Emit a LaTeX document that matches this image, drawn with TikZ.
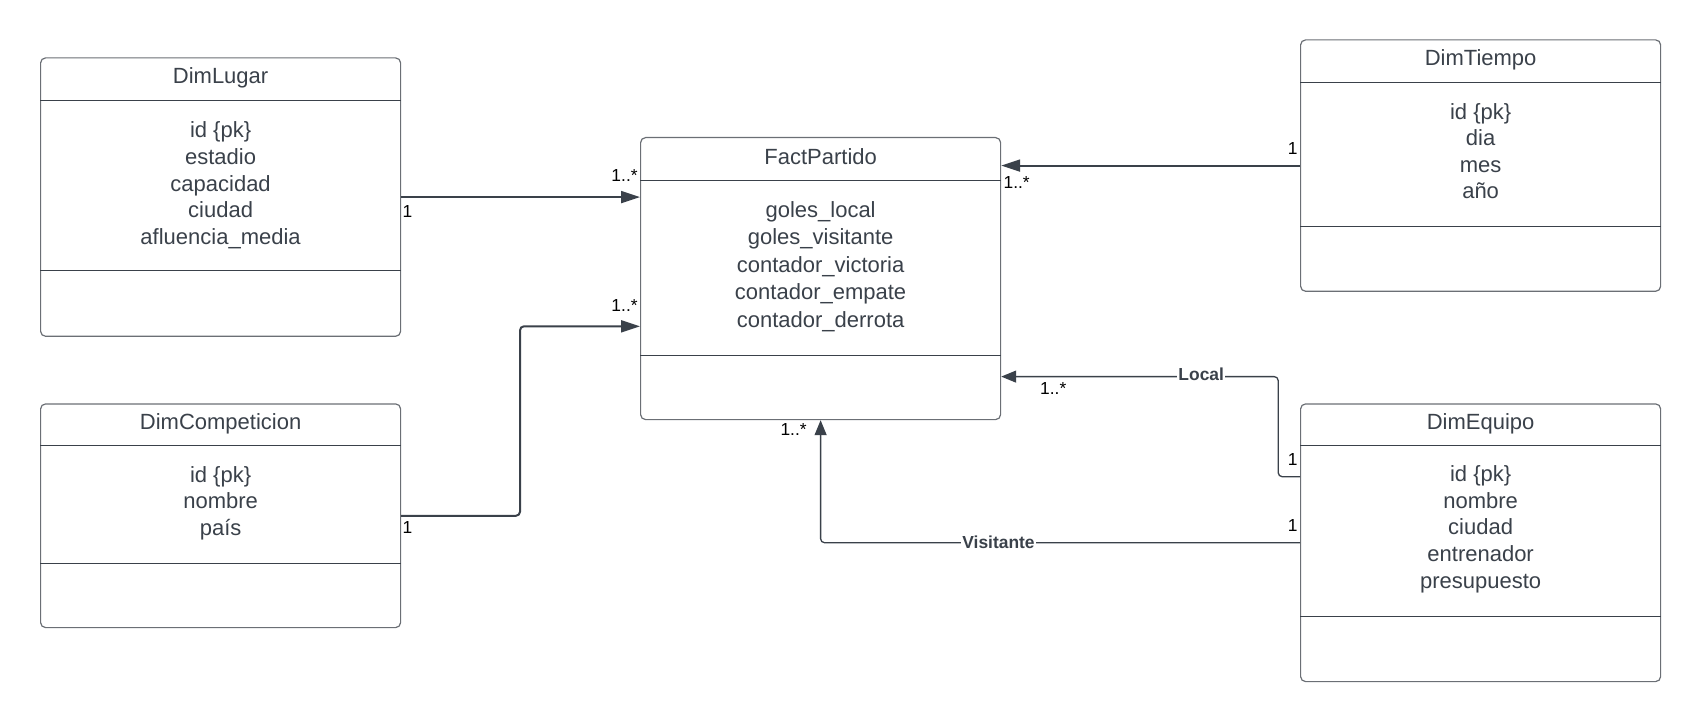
\documentclass[tikz,border=0pt]{standalone}
\usepackage{fontspec}
\setmainfont{Liberation Sans}
\usetikzlibrary{arrows.meta,calc}
\definecolor{ink}{HTML}{3A414A}
\definecolor{edge}{HTML}{6B6F75}
\begin{document}
\begin{tikzpicture}[x=0.5pt,y=-0.5pt,
  cbox/.style={draw=edge, line width=0.6pt, rounded corners=2.5pt, inner sep=0pt, anchor=north west, fill=white, minimum width=180pt},
  sep/.style={draw=ink, line width=0.5pt},
  title/.style={font=\fontsize{11}{13}\selectfont, text=ink, inner sep=0pt},
  attrs/.style={text=ink, align=center, inner sep=0pt},
  mult/.style={font=\fontsize{8.7}{10}\selectfont, inner sep=0pt, text=black},
  rolelab/.style={font=\fontsize{8.7}{10}\selectfont\bfseries, text=ink, fill=white, inner sep=0.6pt},
  conn/.style={draw=ink, line width=1pt, -{Triangle[length=9.5pt,width=6pt]}},
  connthin/.style={draw=ink, line width=0.65pt, rounded corners=2pt, -{Triangle[length=7.5pt,width=6pt]}}]

\useasboundingbox (0,0) rectangle (1700,721);

% ---------- boxes ----------
\node[cbox, minimum height=139.2pt] (lugar) at (40,57.3) {};
\node[cbox, minimum height=111.85pt] (comp) at (40,403.3) {};
\node[cbox, minimum height=141pt] (fact) at (640,137) {};
\node[cbox, minimum height=125.7pt] (tiempo) at (1300,39.3) {};
\node[cbox, minimum height=138.85pt] (equipo) at (1300,403.3) {};

% separators
\draw[sep] ($(lugar.north west)+(0,43)$) -- ($(lugar.north east)+(0,43)$);
\draw[sep] ($(lugar.north west)+(0,213.7)$) -- ($(lugar.north east)+(0,213.7)$);
\draw[sep] ($(comp.north west)+(0,42)$) -- ($(comp.north east)+(0,42)$);
\draw[sep] ($(comp.north west)+(0,160)$) -- ($(comp.north east)+(0,160)$);
\draw[sep] ($(fact.north west)+(0,43.3)$) -- ($(fact.north east)+(0,43.3)$);
\draw[sep] ($(fact.north west)+(0,218.3)$) -- ($(fact.north east)+(0,218.3)$);
\draw[sep] ($(tiempo.north west)+(0,43)$) -- ($(tiempo.north east)+(0,43)$);
\draw[sep] ($(tiempo.north west)+(0,187)$) -- ($(tiempo.north east)+(0,187)$);
\draw[sep] ($(equipo.north west)+(0,41.7)$) -- ($(equipo.north east)+(0,41.7)$);
\draw[sep] ($(equipo.north west)+(0,213.4)$) -- ($(equipo.north east)+(0,213.4)$);

% titles
\node[title] (lugarT) at ($(lugar.north)+(0,20.8)$) {DimLugar};
\node[title] (compT) at ($(comp.north)+(0,20.8)$) {DimCompeticion};
\node[title] (factT) at ($(fact.north)+(0,19.5)$) {FactPartido};
\node[title] (tiempoT) at ($(tiempo.north)+(0,21)$) {DimTiempo};
\node[title] (equipoT) at ($(equipo.north)+(0,20.8)$) {DimEquipo};

% attributes
\node[attrs, font=\fontsize{11}{13.35}\selectfont] (lugarA) at ($(lugar.north)+(0,128)$)
  {id \{pk\}\\estadio\\capacidad\\ciudad\\afluencia\_media};
\node[attrs, font=\fontsize{11}{13.3}\selectfont] (compA) at ($(comp.north)+(0,100)$)
  {id \{pk\}\\nombre\\país};
\node[attrs, font=\fontsize{11}{13.75}\selectfont] (factA) at ($(fact.north)+(0,129.3)$)
  {goles\_local\\goles\_visitante\\contador\_victoria\\contador\_empate\\contador\_derrota};
\node[attrs, font=\fontsize{11}{13.25}\selectfont] (tiempoA) at ($(tiempo.north)+(0,112)$)
  {id \{pk\}\\dia\\mes\\año};
\node[attrs, font=\fontsize{11}{13.3}\selectfont] (equipoA) at ($(equipo.north)+(0,126)$)
  {id \{pk\}\\nombre\\ciudad\\entrenador\\presupuesto};

% ---------- connectors ----------
\draw[conn] (lugar.east) -- (lugar.east -| fact.west);
\draw[conn, rounded corners=2pt] (comp.east) -| ($(fact.west)+(-120,47.7)$) -- ($(fact.west)+(0,47.7)$);
\draw[conn] (tiempo.west) -- (tiempo.west -| fact.east);
\draw[connthin] ($(equipo.north west)+(0,73.4)$) -| ($(fact.east)+(277,98)$) -- ($(fact.east)+(0,98)$);
\draw[connthin] (equipo.west) -| (fact.south);

% role labels
\node[rolelab] (localL) at ($(fact.east)+(200,96)$) {Local};
\node[rolelab] (visitL) at ($(equipo.west)+(-301.5,0)$) {Visitante};

% multiplicities
\node[mult, anchor=west] (m1) at ($(lugar.east)+(1,14)$) {1};
\node[mult, anchor=east] (m2) at ($(fact.west)+(-2,-103)$) {1..*};
\node[mult, anchor=west] (m3) at ($(comp.east)+(1,12)$) {1};
\node[mult, anchor=east] (m4) at ($(fact.west)+(-2,27)$) {1..*};
\node[mult, anchor=east] (m5) at ($(tiempo.west)+(-2,-17)$) {1};
\node[mult, anchor=west] (m6) at ($(fact.east)+(2,-96)$) {1..*};
\node[mult] (m7) at ($(fact.east)+(52,110)$) {1..*};
\node[mult, anchor=east] (m8) at ($(equipo.north west)+(-2,56.7)$) {1};
\node[mult, anchor=east] (m9) at ($(equipo.west)+(-2,-17)$) {1};
\node[mult] (m10) at ($(fact.south)+(-27,9)$) {1..*};
\end{tikzpicture}
\end{document}
